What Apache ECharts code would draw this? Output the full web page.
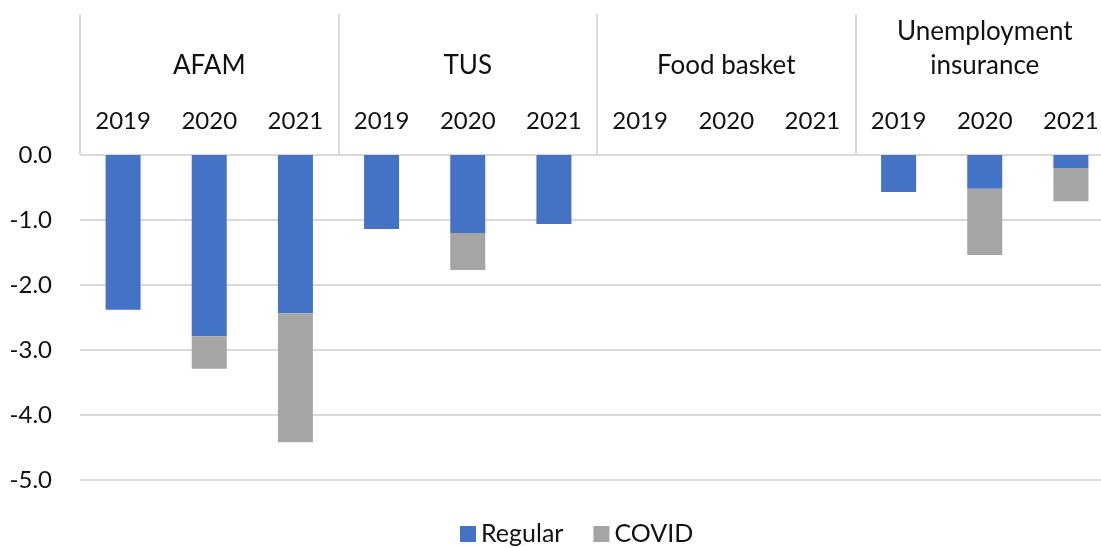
<!DOCTYPE html>
<html lang="en">

<head>
    <meta charset="UTF-8">
    <title>Regular vs COVID</title>
    <script src="https://cdn.jsdelivr.net/npm/echarts@6/dist/echarts.min.js"></script>
    <style>
        html, body { margin: 0; padding: 0; background: #fff; }
        #chart { width: 1101px; height: 548px; }
    </style>
</head>

<body>
    <div id="chart"></div>
    <script>
        // data
        const groups = ['AFAM', 'TUS', 'Food basket', 'Unemployment\ninsurance'];
        const years = ['2019', '2020', '2021',
            '2019', '2020', '2021',
            '2019', '2020', '2021',
            '2019', '2020', '2021'];
        const regular = [-2.38, -2.79, -2.44, -1.14, -1.20, -1.06, 0, 0, 0, -0.57, -0.52, -0.20];
        const covid = [0, -0.50, -1.98, 0, -0.57, 0, 0, 0, 0, 0, -1.02, -0.51];

        const font = 'Lato';
        const gridColor = '#d9d9d9';

        let myEchart = echarts.init(document.querySelector('#chart'));
        let option = {
            animation: false,
            textStyle: { fontFamily: font },
            legend: {
                left: 455,
                top: 516,
                itemWidth: 16,
                itemHeight: 16,
                itemGap: 30,
                icon: 'rect',
                textStyle: { fontFamily: font, fontSize: 25, lineHeight: 26, color: '#111' },
                data: ['Regular', 'COVID']
            },
            // plot runs a bit past the right edge, as in the original (cropped)
            grid: {
                left: 80,
                width: 1034,
                top: 155,
                bottom: 68,
                outerBoundsMode: 'none'
            },
            xAxis: [
                {
                    type: 'category',
                    position: 'top',
                    data: years,
                    axisLine: { show: false },
                    axisTick: { show: false },
                    axisLabel: {
                        interval: 0,
                        margin: 22,
                        fontFamily: font,
                        fontSize: 24,
                        color: '#111'
                    }
                },
                {
                    type: 'category',
                    position: 'top',
                    data: groups,
                    axisLine: { show: false },
                    axisTick: {
                        show: true,
                        length: 141,
                        interval: 0,
                        lineStyle: { color: gridColor, width: 2 }
                    },
                    axisLabel: {
                        interval: 0,
                        margin: 72,
                        fontFamily: font,
                        fontSize: 26,
                        lineHeight: 34,
                        color: '#111'
                    }
                }
            ],
            yAxis: {
                type: 'value',
                min: -5,
                max: 0,
                interval: 1,
                axisLine: { show: false },
                axisTick: { show: false },
                axisLabel: {
                    margin: 28,
                    fontFamily: font,
                    fontSize: 24,
                    color: '#111',
                    formatter: v => v.toFixed(1)
                },
                splitLine: { lineStyle: { color: gridColor, width: 2 } }
            },
            series: [
                {
                    name: 'Regular',
                    type: 'bar',
                    stack: 'total',
                    barWidth: 35,
                    itemStyle: { color: '#4472c4' },
                    data: regular
                },
                {
                    name: 'COVID',
                    type: 'bar',
                    stack: 'total',
                    barWidth: 35,
                    itemStyle: { color: '#a5a5a5' },
                    data: covid
                }
            ]
        };
        myEchart.setOption(option);
    </script>
</body>

</html>
